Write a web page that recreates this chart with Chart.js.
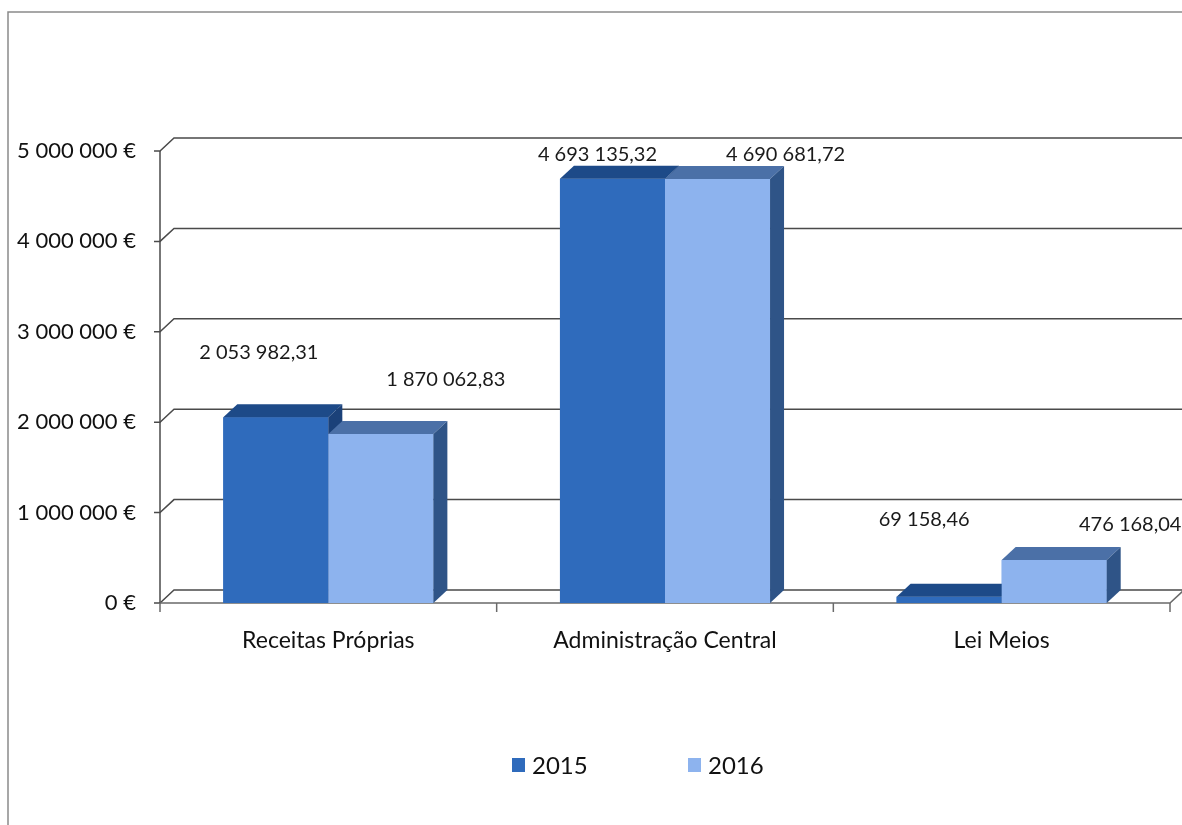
<!DOCTYPE html>
<html lang="pt">
<head>
<meta charset="UTF-8">
<title>Receitas 2015 / 2016</title>
<script src="https://cdn.jsdelivr.net/npm/chart.js@4.4.1/dist/chart.umd.min.js"></script>
<style>
    html, body { margin: 0; padding: 0; background: white; }
    #wrap { position: relative; width: 1182px; height: 825px; overflow: hidden; }
</style>
</head>
<body>
<div id="wrap"><canvas id="chart" width="1182" height="825"></canvas></div>
<script>
    const categories = ['Receitas Próprias', 'Administração Central', 'Lei Meios'];
    const seriesNames = ['2015', '2016'];
    const values2015 = [2053982.31, 4693135.32, 69158.46];
    const values2016 = [1870062.83, 4690681.72, 476168.04];
    const yTicks = [0, 1000000, 2000000, 3000000, 4000000, 5000000];

    // look of the 3D faces: front, top, side
    const faces = [
        { front: '#2f6bbc', top: '#1d4a88', side: '#1b4179' },
        { front: '#8db3ee', top: '#4b70a7', side: '#2f5487' }
    ];
    const depth = { dx: 14, dy: -13 };
    // where excel put each value label, relative to the bar top centre
    const labelNudge = [
        [[-17, -65], [-15, -24], [-25, -77]],
        [[65, -54], [68, -24], [76, -35]]
    ];

    const fmtAxis = v => v.toLocaleString('fr-FR').replace(/\u202f|\u00a0/g, ' ') + ' €';
    const fmtVal = v => v.toLocaleString('fr-FR', { minimumFractionDigits: 2, maximumFractionDigits: 2 })
        .replace(/\u202f|\u00a0/g, ' ');

    const threeD = {
        id: 'threeD',
        beforeDatasetsDraw(chart) {
            const ctx = chart.ctx;
            const y = chart.scales.y;
            const a = chart.chartArea;
            ctx.save();
            // frame of the chart object
            ctx.strokeStyle = '#8a8a8a';
            ctx.lineWidth = 1.5;
            ctx.beginPath();
            ctx.moveTo(8, 825); ctx.lineTo(8, 12); ctx.lineTo(1182, 12);
            ctx.stroke();

            ctx.strokeStyle = '#4a4a4a';
            ctx.lineWidth = 1.5;
            yTicks.forEach(v => {
                const py = y.getPixelForValue(v);
                ctx.beginPath();
                ctx.moveTo(a.left - 6, py);
                ctx.lineTo(a.left, py);
                ctx.lineTo(a.left + depth.dx, py + depth.dy);
                ctx.lineTo(1182, py + depth.dy);
                ctx.stroke();
            });
            // front vertical axis
            ctx.beginPath();
            ctx.moveTo(a.left, y.getPixelForValue(5000000));
            ctx.lineTo(a.left, a.bottom);
            ctx.stroke();
            // floor front edge and its right end
            ctx.strokeStyle = '#6a6a6a';
            ctx.beginPath();
            ctx.moveTo(a.left, a.bottom);
            ctx.lineTo(a.right, a.bottom);
            ctx.lineTo(a.right + depth.dx, a.bottom + depth.dy);
            ctx.stroke();
            // category ticks
            for (let i = 0; i <= categories.length; i++) {
                const px = a.left + (a.right - a.left) * i / categories.length;
                ctx.beginPath();
                ctx.moveTo(px, a.bottom);
                ctx.lineTo(px, a.bottom + 9);
                ctx.stroke();
            }
            ctx.restore();
        },
        afterDatasetsDraw(chart) {
            const ctx = chart.ctx;
            ctx.save();
            chart.data.datasets.forEach((ds, di) => {
                const meta = chart.getDatasetMeta(di);
                const f = faces[di];
                meta.data.forEach(bar => {
                    const l = bar.x - bar.width / 2, r = bar.x + bar.width / 2;
                    const t = bar.y, b = bar.base;
                    ctx.fillStyle = f.front;
                    ctx.fillRect(l, t, r - l, b - t);
                    ctx.fillStyle = f.top;
                    ctx.beginPath();
                    ctx.moveTo(l, t); ctx.lineTo(l + depth.dx, t + depth.dy);
                    ctx.lineTo(r + depth.dx, t + depth.dy); ctx.lineTo(r, t);
                    ctx.closePath(); ctx.fill();
                    ctx.fillStyle = f.side;
                    ctx.beginPath();
                    ctx.moveTo(r, t); ctx.lineTo(r + depth.dx, t + depth.dy);
                    ctx.lineTo(r + depth.dx, b + depth.dy); ctx.lineTo(r, b);
                    ctx.closePath(); ctx.fill();
                });
            });
            // value labels
            ctx.fillStyle = '#1a1a1a';
            ctx.font = '20px Lato';
            ctx.textAlign = 'center';
            ctx.textBaseline = 'middle';
            chart.data.datasets.forEach((ds, di) => {
                chart.getDatasetMeta(di).data.forEach((bar, j) => {
                    const n = labelNudge[di][j];
                    ctx.fillText(fmtVal(ds.data[j]), bar.x + n[0], bar.y + n[1]);
                });
            });
            // legend
            ctx.font = '24px Lato';
            ctx.textAlign = 'left';
            const legendX = [512, 688];
            chart.data.datasets.forEach((ds, di) => {
                ctx.fillStyle = faces[di].front;
                ctx.fillRect(legendX[di], 758, 13, 14);
                ctx.fillStyle = '#111';
                ctx.fillText(ds.label, legendX[di] + 20, 766);
            });
            ctx.restore();
        }
    };

    new Chart(document.getElementById('chart'), {
        type: 'bar',
        data: {
            labels: categories,
            datasets: [
                { label: seriesNames[0], data: values2015, backgroundColor: faces[0].front },
                { label: seriesNames[1], data: values2016, backgroundColor: faces[1].front }
            ]
        },
        options: {
            responsive: false,
            animation: false,
            categoryPercentage: 0.624,
            barPercentage: 1.0,
            layout: { padding: { top: 151, right: 12, left: 0, bottom: 0 } },
            plugins: {
                legend: { display: false },
                tooltip: { enabled: false }
            },
            scales: {
                x: {
                    grid: { display: false, drawTicks: false },
                    border: { display: false },
                    ticks: { color: '#111', font: { family: 'Lato', size: 23 }, padding: 24 },
                    afterFit(s) { s.height = 222; }
                },
                y: {
                    min: 0,
                    max: 5000000,
                    grid: { display: false, drawTicks: false },
                    border: { display: false },
                    afterBuildTicks(s) { s.ticks = yTicks.map(v => ({ value: v })); },
                    ticks: {
                        color: '#111',
                        font: { family: 'Lato', size: 22 },
                        padding: 24,
                        callback: v => fmtAxis(v)
                    },
                    afterFit(s) { s.width = 160; }
                }
            }
        },
        plugins: [threeD]
    });
</script>
</body>
</html>
